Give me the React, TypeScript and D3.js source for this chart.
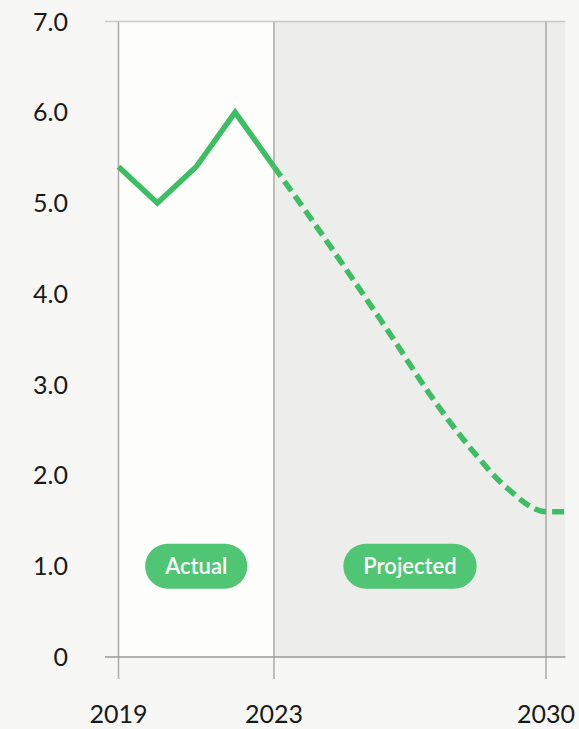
import React, { useEffect, useRef } from "react";
import * as d3 from "d3";

const actualYears = [2019, 2020, 2021, 2022, 2023];
const actualValues = [5.4, 5.0, 5.4, 6.0, 5.4];
const projectedYears = [2023, 2024, 2025, 2026, 2027, 2028, 2029, 2030, 2030.5];
const projectedValues = [5.4, 4.8, 4.18, 3.55, 2.9, 2.33, 1.86, 1.6, 1.6];
const yTicks = [0, 1, 2, 3, 4, 5, 6, 7];
const xTicks = [2019, 2023, 2030];
const regionLabels = ["Actual", "Projected"];

const W = 579;
const H = 729;
const FONT = "Lato, 'Open Sans', sans-serif";

export default function App() {
  const ref = useRef<SVGSVGElement>(null);

  useEffect(() => {
    const svg = d3.select(ref.current);
    svg.selectAll("*").remove();

    const x = d3.scaleLinear().domain([2019, 2030]).range([118.5, 546]);
    const y = d3.scaleLinear().domain([0, 7]).range([657, 21.5]);
    const plotLeft = 105;
    const plotRight = x(2030.5);
    const top = y(7);
    const bottom = y(0);

    svg.append("rect").attr("width", W).attr("height", H).attr("fill", "#f7f7f5");

    // regions
    svg.append("rect")
      .attr("x", x(2019)).attr("y", top)
      .attr("width", x(2023) - x(2019)).attr("height", bottom - top)
      .attr("fill", "#fdfdfc");
    svg.append("rect")
      .attr("x", x(2023)).attr("y", top)
      .attr("width", plotRight - x(2023)).attr("height", bottom - top)
      .attr("fill", "#ededeb");

    // top gridline
    svg.append("line")
      .attr("x1", plotLeft).attr("x2", plotRight)
      .attr("y1", top).attr("y2", top)
      .attr("stroke", "#c9c9c7").attr("stroke-width", 1.5);

    // vertical lines
    svg.selectAll(".vline").data(xTicks).enter().append("line")
      .attr("x1", d => x(d)).attr("x2", d => x(d))
      .attr("y1", top).attr("y2", 679)
      .attr("stroke", "#aaaaa8").attr("stroke-width", 1.5);

    // bottom axis line
    svg.append("line")
      .attr("x1", plotLeft).attr("x2", plotRight)
      .attr("y1", bottom).attr("y2", bottom)
      .attr("stroke", "#9a9a98").attr("stroke-width", 1.5);

    // y labels
    svg.selectAll(".ylab").data(yTicks).enter().append("text")
      .attr("x", 68).attr("y", d => y(d))
      .attr("dy", "0.36em")
      .attr("text-anchor", "end")
      .attr("font-family", FONT).attr("font-size", 25)
      .attr("fill", "#1a1a1a")
      .text(d => (d === 0 ? "0" : d.toFixed(1)));

    // x labels
    svg.selectAll(".xlab").data(xTicks).enter().append("text")
      .attr("x", d => x(d)).attr("y", 723)
      .attr("text-anchor", "middle")
      .attr("font-family", FONT).attr("font-size", 25)
      .attr("fill", "#1a1a1a")
      .text(d => String(d));

    // lines
    const lineA = d3.line<number>()
      .x((_, i) => x(actualYears[i]))
      .y(d => y(d));
    svg.append("path")
      .attr("d", lineA(actualValues))
      .attr("fill", "none").attr("stroke", "#3dbe63")
      .attr("stroke-width", 5.5).attr("stroke-linejoin", "miter");

    const lineP = d3.line<number>()
      .x((_, i) => x(projectedYears[i]))
      .y(d => y(d))
      .curve(d3.curveMonotoneX);
    svg.append("path")
      .attr("d", lineP(projectedValues))
      .attr("fill", "none").attr("stroke", "#3dbe63")
      .attr("stroke-width", 5.5).attr("stroke-dasharray", "12 6");

    // pills
    const centers = [(x(2019) + x(2023)) / 2, (x(2023) + x(2030)) / 2];
    regionLabels.forEach((lab, i) => {
      const g = svg.append("g").attr("transform", `translate(${centers[i]},${y(1)})`);
      const rect = g.append("rect").attr("fill", "#50c574");
      const t = g.append("text")
        .attr("text-anchor", "middle").attr("dy", "0.36em")
        .attr("font-family", FONT).attr("font-size", 22).attr("font-weight", 600)
        .attr("fill", "#ffffff").text(lab);
      const w = (t.node() as SVGTextElement).getComputedTextLength() + 40;
      const h = 45;
      rect.attr("x", -w / 2).attr("y", -h / 2).attr("width", w).attr("height", h)
        .attr("rx", h / 2).attr("ry", h / 2);
    });
  }, []);

  return (
    <svg
      ref={ref}
      width={W}
      height={H}
      style={{ position: "absolute", left: 0, top: 0, display: "block" }}
    />
  );
}
